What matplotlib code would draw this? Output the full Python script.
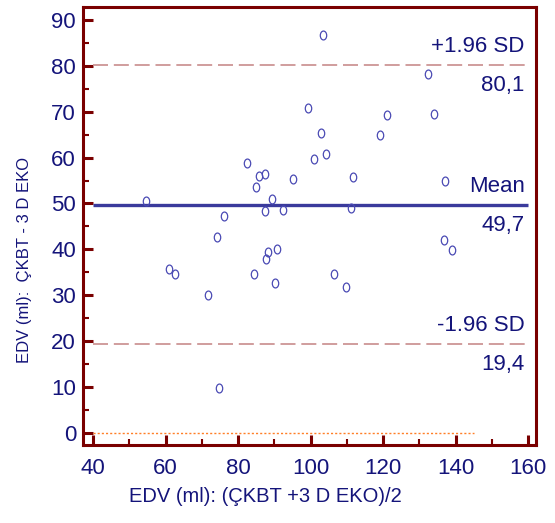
import matplotlib
matplotlib.use("Agg")
import matplotlib.pyplot as plt
from matplotlib.path import Path
from matplotlib.ticker import MultipleLocator
import numpy as np

# ---- data ----
avg_edv = [54.5, 61.0, 62.5, 71.6, 74.3, 74.8, 76.1, 82.4, 85.9, 87.5,
           84.9, 89.3, 87.5, 92.3, 95.2, 99.4, 103.0, 103.4, 101.0, 104.4,
           111.8, 111.2, 88.2, 87.6, 90.8, 84.4, 90.2, 106.5, 109.9, 119.3,
           121.1, 132.5, 134.2, 137.2, 136.7, 138.9]
diff_edv = [50.5, 35.7, 34.6, 30.0, 42.6, 9.9, 47.2, 58.9, 56.0, 56.4,
            53.5, 51.0, 48.4, 48.6, 55.3, 70.9, 65.4, 86.7, 59.7, 60.7,
            55.7, 49.0, 39.4, 38.0, 40.1, 34.6, 32.7, 34.6, 31.7, 64.9,
            69.3, 78.1, 69.5, 55.0, 42.0, 39.8]
mean_diff = 49.7
upper_loa = 80.1
lower_loa = 19.4
line_span = (40, 160)
zero_span = (40, 145)
mean_labels = ("Mean", "49,7")
upper_labels = ("+1.96 SD", "80,1")
lower_labels = ("-1.96 SD", "19,4")
xlabel = "EDV (ml): (ÇKBT +3 D EKO)/2"
ylabel = "EDV (ml):  ÇKBT - 3 D EKO"

# ---- style ----
NAVY = "#14147a"
SPINE = "#7a0000"
MEAN_C = "#3a3a9c"
PT_C = "#4a4ab4"
SD_C = "#c88c8c"
ZERO_C = "#ff7f27"
NARROW = ["Liberation Sans Narrow", "Liberation Sans", "DejaVu Sans"]
REG = ["Liberation Sans", "DejaVu Sans"]

fig = plt.figure(figsize=(5.55, 5.23), dpi=100)
ax = fig.add_axes([83/555, 1-445/523, (536-83)/555, (445-7)/523])

ax.set_xlim(37.24, 162.2)
ax.set_ylim(-2.61, 92.8)

# ellipse marker (taller than wide)
circ = Path.unit_circle()
ell = Path(circ.vertices * np.array([0.72, 1.0]), circ.codes)

ax.plot(avg_edv, diff_edv, linestyle="none", marker=ell, markersize=6.4,
        markerfacecolor="none", markeredgecolor=PT_C, markeredgewidth=0.9, zorder=4)

ax.plot(line_span, [mean_diff]*2, color=MEAN_C, lw=2.4, solid_capstyle="butt", zorder=3)
for v in (upper_loa, lower_loa):
    ax.plot(line_span, [v]*2, color=SD_C, lw=1.2, dashes=(9, 3.5), zorder=3)
ax.plot(zero_span, [0, 0], color=ZERO_C, lw=1.0, dashes=(1.5, 1.5), zorder=3)

for v, (top, bot) in ((upper_loa, upper_labels), (mean_diff, mean_labels), (lower_loa, lower_labels)):
    ax.annotate(top, xy=(line_span[1], v), xytext=(-2.5, 6.0), textcoords="offset points",
                ha="right", va="bottom", color=NAVY, fontsize=16, family=NARROW)
    ax.annotate(bot, xy=(line_span[1], v), xytext=(-2.5, -7.0), textcoords="offset points",
                ha="right", va="top", color=NAVY, fontsize=16, family=NARROW)

for s in ax.spines.values():
    s.set_color(SPINE)
    s.set_linewidth(2.2)

ax.set_xticks(np.arange(40, 161, 20))
ax.set_yticks(np.arange(0, 91, 10))
ax.xaxis.set_minor_locator(MultipleLocator(10))
ax.yaxis.set_minor_locator(MultipleLocator(5))
ax.tick_params(which="major", direction="in", length=7, width=2.2, color=SPINE,
               labelcolor=NAVY, labelsize=16)
ax.tick_params(which="minor", direction="in", length=4, width=1.5, color=SPINE)
ax.tick_params(axis="x", which="major", pad=9)
ax.tick_params(axis="y", which="major", pad=5)
for lab in ax.get_xticklabels() + ax.get_yticklabels():
    lab.set_family(NARROW)

fig.text(265/555, 1-497/523, xlabel, ha="center", va="center", color=NAVY,
         fontsize=14.5, family=REG)
fig.text(25/555, 1-260/523, ylabel, ha="center", va="center", rotation=90,
         color=NAVY, fontsize=12, family=REG)

fig.savefig("out.png", dpi=100)
